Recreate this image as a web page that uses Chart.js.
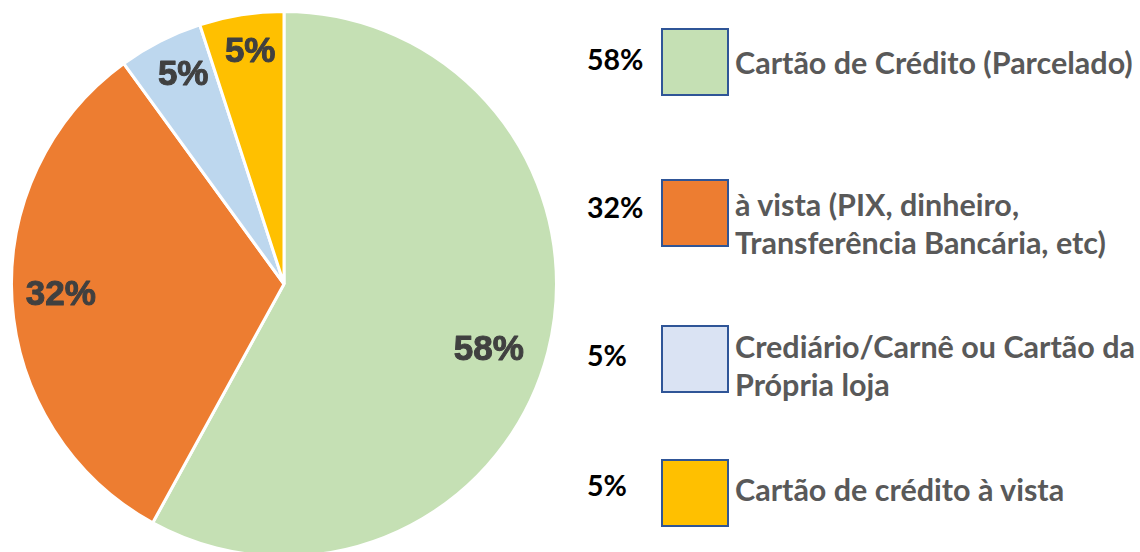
<!DOCTYPE html>
<html>
<head>
<meta charset="utf-8">
<script src="https://cdn.jsdelivr.net/npm/chart.js@4"></script>
<style>
  html, body { margin: 0; padding: 0; background: #fff; overflow: hidden; }
  body { width: 1140px; height: 552px; position: relative; }
  #pie-wrap { position: absolute; left: 0; top: 0; width: 568px; height: 568px; }
  .pct { position: absolute; left: 587px; font: bold 28.5px Lato, sans-serif; color: #000; line-height: 38px; }
  .box { position: absolute; left: 661px; width: 68px; height: 68px; box-sizing: border-box; border: 2px solid #2F5597; }
  .txt { position: absolute; left: 735px; font: bold 30.5px Lato, sans-serif; color: #595959; line-height: 38px; white-space: nowrap; }
</style>
</head>
<body>
<div id="pie-wrap"><canvas id="pie"></canvas></div>
<div id="legend"></div>
<script>
const categories = [
    'Cartão de Crédito (Parcelado)',
    'à vista (PIX, dinheiro,\nTransferência Bancária, etc)',
    'Crediário/Carnê ou Cartão da\nPrópria loja',
    'Cartão de crédito à vista'
];
const shares = [58, 32, 5, 5];
const sliceColors = ['#C5E0B4', '#ED7D31', '#BDD7EE', '#FFC000'];
const legendColors = ['#C5E0B4', '#ED7D31', '#DAE3F3', '#FFC000'];

// legend rows: top of pct text, top of box, top of label text
const rowPct = [40, 188, 336, 466];
const rowBox = [28, 179, 325, 459];
const rowTxt = [43, 185, 327, 470];

const legend = document.getElementById('legend');
categories.forEach((c, i) => {
    const p = document.createElement('div');
    p.className = 'pct';
    p.style.top = rowPct[i] + 'px';
    p.textContent = shares[i] + '%';
    legend.appendChild(p);
    const b = document.createElement('div');
    b.className = 'box';
    b.style.top = rowBox[i] + 'px';
    b.style.background = legendColors[i];
    legend.appendChild(b);
    const t = document.createElement('div');
    t.className = 'txt';
    t.style.top = rowTxt[i] + 'px';
    t.innerHTML = c.split('\n').join('<br>');
    legend.appendChild(t);
});

// label placement inside slices: fraction of radius, angle nudge (deg)
const labelRadius = [0.79, 0.82, 0.85, 0.86];
const labelNudge = [3.6, 0.8, 1.2, 0.7];

const sliceLabels = {
    id: 'sliceLabels',
    afterDatasetsDraw(chart) {
        const ctx = chart.ctx;
        const meta = chart.getDatasetMeta(0);
        ctx.save();
        ctx.font = 'bold 35px "Liberation Sans", Arial, sans-serif';
        ctx.fillStyle = '#404040';
        ctx.strokeStyle = '#404040';
        ctx.lineWidth = 1;
        ctx.lineJoin = 'round';
        ctx.textAlign = 'center';
        ctx.textBaseline = 'middle';
        meta.data.forEach((arc, i) => {
            const { x, y, startAngle, endAngle, outerRadius } = arc.getProps(['x', 'y', 'startAngle', 'endAngle', 'outerRadius'], true);
            const mid = (startAngle + endAngle) / 2 + labelNudge[i] * Math.PI / 180;
            const r = outerRadius * labelRadius[i];
            const tx = x + Math.cos(mid) * r, ty = y + Math.sin(mid) * r;
            ctx.strokeText(shares[i] + '%', tx, ty);
            ctx.fillText(shares[i] + '%', tx, ty);
        });
        ctx.restore();
    }
};

new Chart(document.getElementById('pie'), {
    type: 'pie',
    data: {
        labels: categories,
        datasets: [{
            data: shares,
            backgroundColor: sliceColors,
            borderColor: '#ffffff',
            borderWidth: 3
        }]
    },
    options: {
        responsive: true,
        maintainAspectRatio: false,
        animation: false,
        layout: { padding: 10 },
        plugins: { legend: { display: false }, tooltip: { enabled: false } }
    },
    plugins: [sliceLabels]
});
</script>
</body>
</html>
